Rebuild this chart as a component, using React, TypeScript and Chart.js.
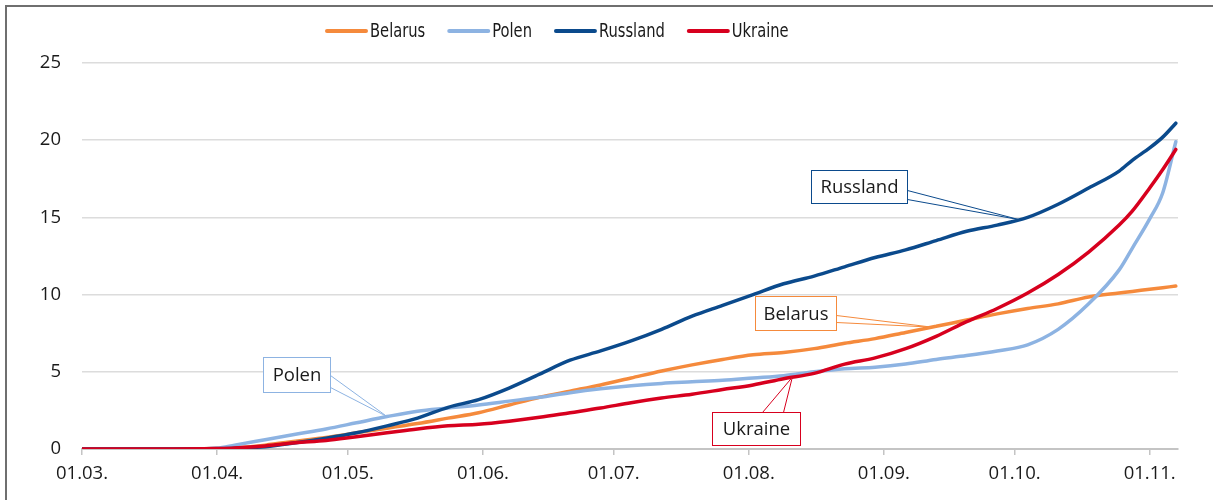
import { useEffect, useRef } from "react";
import { Chart, registerables } from "chart.js";

Chart.register(...registerables);

// Day offsets counted from 01.03.
const monthDays = [0, 31, 61, 92, 122, 153, 184, 214, 245];
const monthLabels = ["01.03.", "01.04.", "01.05.", "01.06.", "01.07.", "01.08.", "01.09.", "01.10.", "01.11."];
const yTickValues = [0, 5, 10, 15, 20, 25];

const days = [0, 7, 14, 21, 28, 31, 35, 42, 49, 56, 63, 70, 77, 84, 91, 98, 105, 112, 119, 126, 133, 140, 147, 154, 161, 168, 175, 182, 189, 196, 203, 210, 217, 224, 231, 238, 241, 245, 248, 251];

const belarus = [0, 0, 0, 0.01, 0.02, 0.04, 0.07, 0.25, 0.5, 0.75, 1.05, 1.35, 1.65, 2.0, 2.35, 2.85, 3.35, 3.75, 4.15, 4.6, 5.05, 5.45, 5.8, 6.1, 6.25, 6.5, 6.85, 7.15, 7.55, 7.95, 8.35, 8.75, 9.1, 9.4, 9.85, 10.1, 10.2, 10.35, 10.45, 10.55];
const polen = [0, 0, 0, 0, 0.02, 0.06, 0.25, 0.6, 0.95, 1.3, 1.7, 2.1, 2.45, 2.65, 2.85, 3.1, 3.35, 3.65, 3.9, 4.1, 4.25, 4.35, 4.45, 4.6, 4.75, 5.0, 5.2, 5.3, 5.5, 5.8, 6.05, 6.35, 6.75, 7.75, 9.4, 11.6, 13.0, 14.9, 16.6, 19.9];
const russland = [0, 0, 0, 0, 0.01, 0.02, 0.05, 0.15, 0.4, 0.7, 1.05, 1.5, 2.0, 2.7, 3.2, 3.95, 4.85, 5.75, 6.35, 7.0, 7.75, 8.6, 9.3, 10.0, 10.7, 11.2, 11.8, 12.4, 12.9, 13.5, 14.1, 14.5, 15.0, 15.85, 16.9, 18.0, 18.7, 19.5, 20.2, 21.1];
const ukraine = [0, 0, 0, 0, 0.01, 0.03, 0.07, 0.2, 0.4, 0.55, 0.8, 1.05, 1.3, 1.5, 1.6, 1.8, 2.05, 2.35, 2.65, 3.0, 3.3, 3.55, 3.85, 4.15, 4.55, 4.9, 5.5, 5.9, 6.5, 7.3, 8.25, 9.1, 10.1, 11.3, 12.75, 14.5, 15.4, 16.9, 18.1, 19.4];

const seriesNames = ["Belarus", "Polen", "Russland", "Ukraine"];
const seriesValues = [belarus, polen, russland, ukraine];
const seriesColors = ["#F58A3C", "#8DB3E2", "#0B4A8C", "#D7001E"];

// Callout boxes: anchored on a series at a given day; box placed by pixel offset from the tip.
const callouts = [
  { series: 1, day: 70, dx: -124, dy: -60, w: 67, h: 35, side: "right", base: [18, 30] },
  { series: 2, day: 215, dx: -208, dy: -50, w: 96, h: 33, side: "right", base: [20, 29] },
  { series: 0, day: 195, dx: -177, dy: -31, w: 81, h: 34, side: "right", base: [19, 26] },
  { series: 3, day: 163, dx: -80, dy: 35, w: 88, h: 33, side: "top", base: [50, 71] },
];

const TEXT_FONT = "'Open Sans', 'Liberation Sans', sans-serif";
const LEGEND_FONT = "'Liberation Sans Narrow', 'DejaVu Sans Condensed', sans-serif";

function valueAt(values: number[], day: number): number {
  for (let i = 0; i < days.length - 1; i++) {
    if (day >= days[i] && day <= days[i + 1]) {
      const t = (day - days[i]) / (days[i + 1] - days[i]);
      return values[i] + t * (values[i + 1] - values[i]);
    }
  }
  return values[values.length - 1];
}

const calloutPlugin = {
  id: "callouts",
  afterDatasetsDraw(chart: any) {
    const ctx = chart.ctx;
    const xs = chart.scales.x;
    const ys = chart.scales.y;
    ctx.save();
    for (const c of callouts) {
      const color = seriesColors[c.series];
      const tx = xs.getPixelForValue(c.day);
      const ty = ys.getPixelForValue(valueAt(seriesValues[c.series], c.day));
      const bx = Math.round(tx + c.dx) + 0.5;
      const by = Math.round(ty + c.dy) + 0.5;
      let p1, p2;
      if (c.side === "right") {
        p1 = [bx + c.w, by + c.base[0]];
        p2 = [bx + c.w, by + c.base[1]];
      } else {
        p1 = [bx + c.base[0], by];
        p2 = [bx + c.base[1], by];
      }
      ctx.beginPath();
      ctx.moveTo(p1[0], p1[1]);
      ctx.lineTo(tx, ty);
      ctx.lineTo(p2[0], p2[1]);
      ctx.closePath();
      ctx.fillStyle = "#ffffff";
      ctx.fill();
      ctx.beginPath();
      ctx.moveTo(p1[0], p1[1]);
      ctx.lineTo(tx, ty);
      ctx.lineTo(p2[0], p2[1]);
      ctx.strokeStyle = color;
      ctx.lineWidth = 1;
      ctx.stroke();
      ctx.fillStyle = "#ffffff";
      ctx.fillRect(bx, by, c.w, c.h);
      ctx.strokeRect(bx, by, c.w, c.h);
      ctx.fillStyle = "#1a1a1a";
      ctx.font = `18.5px ${TEXT_FONT}`;
      ctx.textAlign = "center";
      ctx.textBaseline = "middle";
      ctx.fillText(seriesNames[c.series], bx + c.w / 2, by + c.h / 2 + 1);
    }
    ctx.restore();
  },
};

const LEGEND_SQUEEZE = 0.86;

const legendPlugin = {
  id: "customLegend",
  afterDraw(chart: any) {
    const ctx = chart.ctx;
    ctx.save();
    ctx.font = `19px ${LEGEND_FONT}`;
    ctx.textBaseline = "middle";
    ctx.textAlign = "left";
    let x = 325;
    const y = 31;
    seriesNames.forEach((name, i) => {
      ctx.beginPath();
      ctx.moveTo(x + 2, y);
      ctx.lineTo(x + 41, y);
      ctx.strokeStyle = seriesColors[i];
      ctx.lineWidth = 4;
      ctx.lineCap = "round";
      ctx.stroke();
      ctx.fillStyle = "#1a1a1a";
      ctx.save();
      ctx.translate(x + 45, y + 1);
      ctx.scale(LEGEND_SQUEEZE, 1);
      ctx.fillText(name, 0, 0);
      ctx.restore();
      x += 45 + ctx.measureText(name).width * LEGEND_SQUEEZE + 22;
    });
    ctx.restore();
  },
};

export default function App() {
  const canvasRef = useRef<HTMLCanvasElement | null>(null);

  useEffect(() => {
    const canvas = canvasRef.current;
    if (!canvas) return;
    const chart = new Chart(canvas, {
      type: "line",
      data: {
        datasets: seriesNames.map((name, i) => ({
          label: name,
          data: days.map((d, j) => ({ x: d, y: seriesValues[i][j] })),
          borderColor: seriesColors[i],
          backgroundColor: seriesColors[i],
          borderWidth: 3.5,
          pointRadius: 0,
          cubicInterpolationMode: "monotone",
          borderJoinStyle: "round",
          borderCapStyle: "round",
          order: 4 - i,
        })),
      },
      options: {
        responsive: false,
        animation: false,
        devicePixelRatio: 1,
        layout: { padding: { top: 63, right: 35, left: 0, bottom: 0 } },
        plugins: { legend: { display: false }, tooltip: { enabled: false } },
        scales: {
          x: {
            type: "linear",
            min: 0,
            max: 251.5,
            afterBuildTicks: (scale: any) => {
              scale.ticks = monthDays.map((v) => ({ value: v }));
            },
            afterFit: (scale: any) => {
              scale.height = 51;
            },
            ticks: {
              autoSkip: false,
              maxRotation: 0,
              padding: 8,
              color: "#1a1a1a",
              font: { family: TEXT_FONT, size: 18.5 },
              callback: (v: any) => {
                const idx = monthDays.indexOf(Number(v));
                return idx >= 0 ? monthLabels[idx] : "";
              },
            },
            grid: {
              drawOnChartArea: false,
              drawTicks: true,
              tickLength: 6,
              color: "#c4c4c4",
              lineWidth: 1.5,
            },
            border: { display: true, color: "#c4c4c4", width: 2 },
          },
          y: {
            min: 0,
            max: 25,
            afterBuildTicks: (scale: any) => {
              scale.ticks = yTickValues.map((v) => ({ value: v }));
            },
            afterFit: (scale: any) => {
              scale.width = 82;
            },
            ticks: {
              padding: 21,
              color: "#1a1a1a",
              font: { family: TEXT_FONT, size: 18.5 },
            },
            grid: { color: "#dcdcdc", lineWidth: 1.5, drawTicks: false },
            border: { display: false },
          },
        },
      },
      plugins: [calloutPlugin, legendPlugin],
    } as any);
    return () => chart.destroy();
  }, []);

  return (
    <div style={{ position: "fixed", left: 0, top: 0, width: 1213, height: 500, overflow: "hidden", background: "#fff" }}>
      <div
        style={{
          position: "absolute",
          left: 5,
          top: 5,
          width: 1400,
          height: 700,
          borderTop: "2px solid #6f6f6f",
          borderLeft: "2px solid #6f6f6f",
        }}
      />
      <canvas ref={canvasRef} width={1213} height={500} style={{ position: "absolute", left: 0, top: 0 }} />
    </div>
  );
}
